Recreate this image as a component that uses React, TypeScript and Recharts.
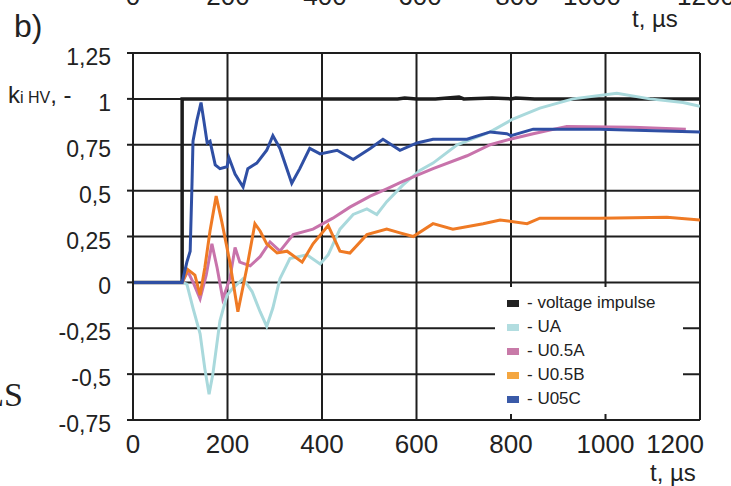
import { CartesianGrid, Legend, Line, LineChart, XAxis, YAxis } from "recharts";

const FONT = '"Liberation Sans", Arial, Helvetica, sans-serif';

const xTicks = [0, 200, 400, 600, 800, 1000, 1200];
const yTicks = [-0.75, -0.5, -0.25, 0, 0.25, 0.5, 0.75, 1, 1.25];

// cut-off axis labels of the chart above (only their lower edge shows)
const topLabels = ["0", "200", "400", "600", "800", "1000", "1200"];
const topLabelX = [133, 228, 325, 420, 517, 592, 706];

const seriesNames = ["voltage impulse", "UA", "U0.5A", "U0.5B", "U05C"];
const lineColors = ["#1c1c1c", "#a9d9dc", "#c873ab", "#ef7a24", "#2f4fa4"];
const swatchColors = ["#222222", "#b2dde0", "#c87aa8", "#f4a640", "#3a5aa8"];

// voltage impulse
const vT = [0, 104, 104, 200, 400, 560, 575, 600, 640, 690, 700, 760, 800, 810, 850, 900, 1200];
const vK = [0, 0, 1, 1, 1, 1, 1.005, 1, 1, 1.01, 1, 1.005, 1, 1.005, 1, 1, 1];

// UA
const uaT = [0, 104, 114, 127, 142, 152, 161, 169, 184, 199, 212, 233, 252, 269, 283, 296, 311, 332, 368, 396, 413, 438, 466, 495, 516, 537, 571, 607, 635, 686, 756, 804, 861, 931, 1024, 1094, 1164, 1200];
const uaK = [0, 0, -0.01, -0.14, -0.28, -0.47, -0.61, -0.5, -0.21, -0.07, -0.03, 0.02, -0.05, -0.16, -0.24, -0.14, 0.02, 0.13, 0.15, 0.1, 0.15, 0.29, 0.37, 0.4, 0.37, 0.44, 0.53, 0.61, 0.65, 0.75, 0.82, 0.89, 0.95, 1.0, 1.03, 1.0, 0.98, 0.96];

// U0.5A
const paT = [0, 104, 116, 129, 142, 155, 167, 178, 190, 205, 216, 226, 248, 269, 290, 311, 339, 381, 423, 459, 502, 537, 571, 607, 635, 707, 756, 798, 847, 918, 1058, 1170];
const paK = [0, 0, 0.06, -0.01, -0.09, 0.04, 0.21, 0.08, -0.09, 0.02, 0.19, 0.11, 0.09, 0.14, 0.22, 0.17, 0.26, 0.29, 0.35, 0.41, 0.47, 0.51, 0.55, 0.59, 0.62, 0.69, 0.75, 0.78, 0.81, 0.85, 0.845, 0.835];

// U0.5B
const pbT = [0, 104, 116, 131, 142, 152, 163, 176, 188, 205, 222, 241, 258, 269, 283, 305, 326, 358, 381, 413, 438, 459, 495, 537, 565, 593, 635, 677, 741, 777, 834, 861, 988, 1130, 1200];
const pbK = [0, 0, 0.07, 0.04, -0.07, 0.08, 0.28, 0.47, 0.33, 0.11, -0.16, 0.08, 0.32, 0.28, 0.21, 0.16, 0.17, 0.11, 0.21, 0.31, 0.17, 0.16, 0.26, 0.29, 0.27, 0.25, 0.32, 0.29, 0.32, 0.34, 0.32, 0.35, 0.35, 0.355, 0.34];

// U05C
const pcT = [0, 104, 114, 121, 125, 127, 135, 144, 150, 157, 163, 174, 184, 199, 203, 216, 233, 243, 262, 283, 296, 311, 336, 353, 374, 396, 432, 466, 502, 529, 565, 601, 635, 707, 756, 791, 800, 847, 988, 1200];
const pcK = [0, 0, 0.11, 0.17, 0.55, 0.77, 0.88, 0.98, 0.88, 0.76, 0.77, 0.64, 0.62, 0.63, 0.68, 0.59, 0.52, 0.62, 0.65, 0.72, 0.8, 0.73, 0.54, 0.62, 0.73, 0.7, 0.72, 0.67, 0.73, 0.78, 0.72, 0.76, 0.78, 0.78, 0.82, 0.81, 0.8, 0.835, 0.835, 0.82];

const toPoints = (t: number[], k: number[]) => t.map((v, i) => ({ t: v, k: k[i] }));

const seriesData = [
  toPoints(vT, vK),
  toPoints(uaT, uaK),
  toPoints(paT, paK),
  toPoints(pbT, pbK),
  toPoints(pcT, pcK),
];

const fmt = (v: number) => String(v).replace(".", ",");

function XTick({ x, payload }: any) {
  // the last label is pulled inside the figure edge
  const last = payload.value === xTicks[xTicks.length - 1];
  return (
    <text
      x={last ? x + 4 : x}
      y={453}
      textAnchor={last ? "end" : "middle"}
      fontSize={26}
      fill="#222"
      fontFamily={FONT}
    >
      {payload.value}
    </text>
  );
}

function YTick({ x, y, payload }: any) {
  return (
    <text x={x} y={y + 12} textAnchor="end" fontSize={23} fill="#222" fontFamily={FONT}>
      {fmt(payload.value)}
    </text>
  );
}

function LegendBox() {
  return (
    <div
      style={{
        width: 188,
        height: 127,
        background: "#fff",
        boxSizing: "border-box",
        paddingTop: 4,
        paddingLeft: 12,
        fontFamily: FONT,
        fontSize: 17,
        color: "#222",
      }}
    >
      {seriesNames.map((n, i) => (
        <div key={n} style={{ display: "flex", alignItems: "center", height: 24 }}>
          <span
            style={{
              display: "inline-block",
              width: 12,
              height: 7,
              background: swatchColors[i],
              marginRight: 8,
            }}
          />
          <span>- {n}</span>
        </div>
      ))}
    </div>
  );
}

export default function App() {
  return (
    <div style={{ position: "absolute", left: 0, top: 0, width: 731, height: 486, background: "#fff" }}>
      <LineChart width={731} height={486} margin={{ top: 53, right: 31, left: 0, bottom: 0 }}>
        <CartesianGrid stroke="#1e1e1e" strokeWidth={2} />
        <XAxis
          dataKey="t"
          type="number"
          domain={[0, 1200]}
          ticks={xTicks}
          height={66}
          tickSize={0}
          tickLine={false}
          tick={<XTick />}
          axisLine={{ stroke: "#1e1e1e", strokeWidth: 2 }}
          allowDataOverflow
        />
        <YAxis
          type="number"
          domain={[-0.75, 1.25]}
          ticks={yTicks}
          width={133}
          tickSize={6}
          tickMargin={16}
          tick={<YTick />}
          tickLine={{ stroke: "#1e1e1e", strokeWidth: 2 }}
          axisLine={{ stroke: "#1e1e1e", strokeWidth: 2 }}
          allowDataOverflow
        />
        {seriesData.map((d, i) => (
          <Line
            key={seriesNames[i]}
            data={d}
            dataKey="k"
            name={seriesNames[i]}
            type="linear"
            stroke={lineColors[i]}
            strokeWidth={i === 0 ? 3.5 : 3}
            dot={false}
            activeDot={false}
            isAnimationActive={false}
          />
        ))}
        <Legend
          layout="horizontal"
          verticalAlign="middle"
          align="center"
          content={<LegendBox />}
          wrapperStyle={{ left: 495, top: 287, width: 188, height: 127 }}
        />
      </LineChart>
      <svg
        width={731}
        height={486}
        style={{ position: "absolute", left: 0, top: 0, pointerEvents: "none" }}
        fontFamily={FONT}
        fill="#222"
      >
        {topLabels.map((l, i) => (
          <text key={l} x={topLabelX[i]} y={5} textAnchor="middle" fontSize={26}>
            {l}
          </text>
        ))}
        <text x={632} y={27} fontSize={24}>
          t, µs
        </text>
        <text x={14} y={37} fontSize={32}>
          b)
        </text>
        <text x={8} y={103} fontSize={24}>
          k<tspan fontSize={16}>i HV</tspan>, -
        </text>
        <text x={650} y={481} fontSize={24}>
          t, µs
        </text>
        <text x={23} y={406} textAnchor="end" fontSize={34} fontFamily='"Liberation Serif", "Times New Roman", serif'>
          LS
        </text>
      </svg>
    </div>
  );
}
